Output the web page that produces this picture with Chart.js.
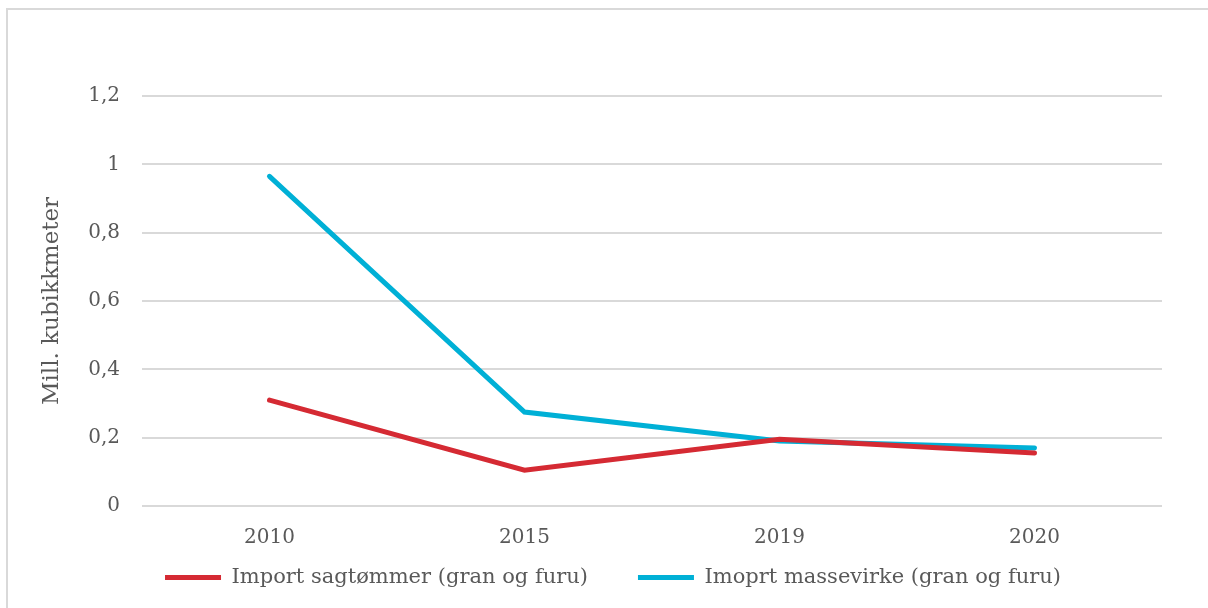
<!DOCTYPE html>
<html>
<head>
<meta charset="utf-8">
<script src="https://cdn.jsdelivr.net/npm/chart.js@4"></script>
<style>
  body { margin: 0; background: #fff; }
  #frame { position: absolute; left: 6px; top: 8px; width: 1300px; height: 700px; border: 2px solid #d9d9d9; }
  #wrap { position: absolute; left: 0; top: 0; width: 1208px; height: 608px; }
</style>
</head>
<body>
<div id="frame"></div>
<div id="wrap"><canvas id="mychart"></canvas></div>
<script>
// years
var labels = ['2010', '2015', '2019', '2020'];
// Import sagtømmer (gran og furu)
var sagtommer = [0.31, 0.105, 0.195, 0.155];
// Imoprt massevirke (gran og furu)
var massevirke = [0.965, 0.275, 0.19, 0.17];

var myChart = document.getElementById('mychart');
var fontFam = '"DejaVu Serif", Georgia, serif';

new Chart(myChart, {
  type: 'line',
  data: {
    labels: labels,
    datasets: [
      {
        label: 'Import sagtømmer (gran og furu)',
        borderColor: '#d52a33',
        backgroundColor: '#d52a33',
        borderWidth: 5,
        pointRadius: 0,
        borderCapStyle: 'round',
        data: sagtommer
      },
      {
        label: 'Imoprt massevirke (gran og furu)',
        borderColor: '#00b0d6',
        backgroundColor: '#00b0d6',
        borderWidth: 5,
        pointRadius: 0,
        borderCapStyle: 'round',
        data: massevirke
      }
    ]
  },
  options: {
    responsive: true,
    maintainAspectRatio: false,
    animation: false,
    layout: { padding: { left: 64, right: 46, top: 96, bottom: 10 } },
    plugins: {
      tooltip: { enabled: false },
      legend: {
        position: 'bottom',
        labels: {
          usePointStyle: true,
          pointStyle: 'line',
          pointStyleWidth: 56,
          padding: 50,
          color: '#595959',
          font: { family: fontFam, size: 21 }
        }
      }
    },
    scales: {
      x: {
        offset: true,
        grid: { display: false, drawTicks: false },
        border: { display: false },
        // mirrored labels are not clipped to the (thin) axis box
        ticks: { mirror: true, color: '#595959', padding: -44, font: { family: fontFam, size: 20 } },
        afterFit: function (scale) { scale.height = 11; }
      },
      y: {
        min: 0,
        max: 1.2,
        grid: { color: '#d9d9d9', lineWidth: 2, drawTicks: false },
        border: { display: false },
        ticks: {
          stepSize: 0.2,
          color: '#595959',
          padding: 22,
          font: { family: fontFam, size: 20 },
          callback: function (v) { return (Math.round(v * 10) / 10).toString().replace('.', ','); }
        },
        title: {
          display: true,
          text: 'Mill. kubikkmeter',
          color: '#595959',
          padding: { top: -26, bottom: 0 },
          font: { family: fontFam, size: 23 }
        },
        afterFit: function (scale) { scale.width = 78; }
      }
    }
  }
});
</script>
</body>
</html>
